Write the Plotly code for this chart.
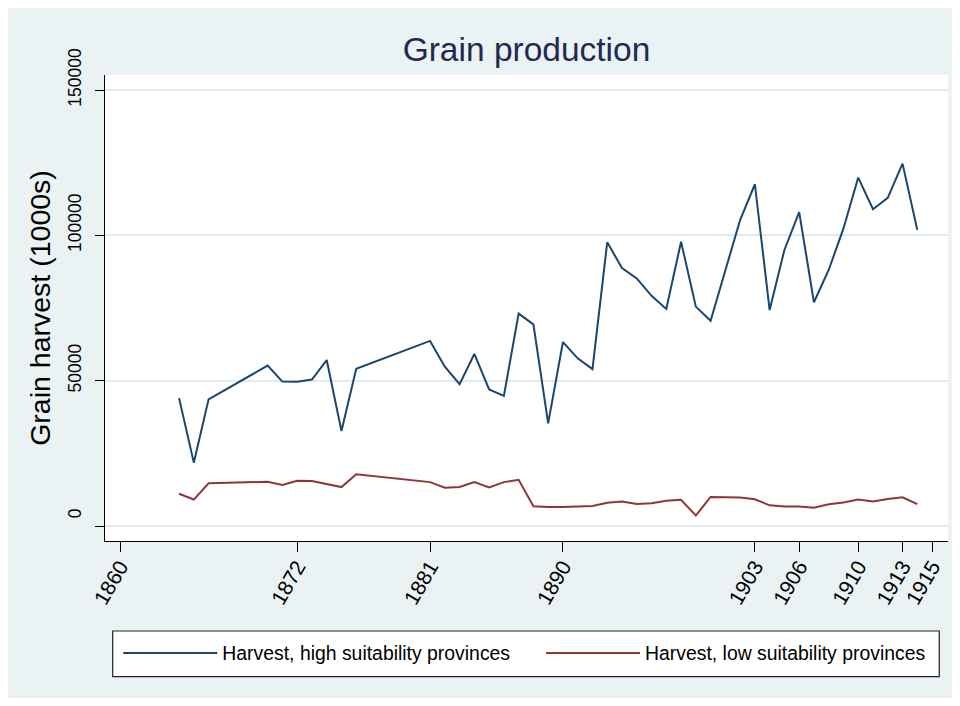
import plotly.graph_objects as go

years = [1864, 1865, 1866, 1870, 1871, 1872, 1873, 1874, 1875, 1876,
         1881, 1882, 1883, 1884, 1885, 1886, 1887, 1888, 1889, 1890,
         1891, 1892, 1893, 1894, 1895, 1896, 1897, 1898, 1899, 1900,
         1902, 1903, 1904, 1905, 1906, 1907, 1908, 1909, 1910, 1911,
         1912, 1913, 1914]

harvest_high = [44000, 21800, 43600, 55200, 49700, 49600, 50400, 57100, 32700, 54100,
                63700, 54800, 48800, 59200, 47000, 44800, 73100, 69400, 35300, 63300,
                57700, 54000, 97600, 88800, 85200, 79200, 74700, 97800, 75500, 70600,
                105300, 117600, 74300, 95000, 108000, 77000, 88100, 102400, 119900, 109000,
                112900, 124700, 101900]

harvest_low = [11100, 9100, 14700, 15200, 14100, 15600, 15500, 14400, 13400, 17800,
               15100, 13200, 13400, 15100, 13300, 15100, 15900, 6800, 6500, 6500,
               6700, 6900, 8000, 8400, 7600, 7800, 8700, 9000, 3600, 10000,
               9800, 9200, 7100, 6700, 6700, 6300, 7500, 8100, 9100, 8400,
               9300, 9900, 7500]

series_names = ["Harvest, high suitability provinces", "Harvest, low suitability provinces"]
x_ticks = [1860, 1872, 1881, 1890, 1903, 1906, 1910, 1913, 1915]
y_ticks = [0, 50000, 100000, 150000]

# figure sits inside the page's default 8px body margin
OFF = 8
W, H = 944, 690
ML, MR, MT, MB = 97, 4, 67, 157
PW, PH = W - ML - MR, H - MT - MB

def px_x(p):  # screen px -> paper x
    return (p - OFF - ML) / PW

def px_y(p):  # screen px -> paper y
    return (H - MB - (p - OFF)) / PH

FONT = "Liberation Sans, Arial, Helvetica, sans-serif"
BG = "#EAF2F3"

fig = go.Figure()
fig.add_trace(go.Scatter(x=years, y=harvest_high, mode="lines", name=series_names[0],
                         line=dict(color="#1A476F", width=2), legend="legend"))
fig.add_trace(go.Scatter(x=years, y=harvest_low, mode="lines", name=series_names[1],
                         line=dict(color="#90353B", width=2), legend="legend2"))

leg_common = dict(orientation="h", xref="container", yref="container",
                  xanchor="left", yanchor="middle", y=(H - (653.3 - OFF)) / H,
                  bgcolor="rgba(0,0,0,0)", borderwidth=0,
                  font=dict(size=19.4, family=FONT, color="black"),
                  itemwidth=94, itemsizing="trace")

fig.update_layout(
    template="none",
    width=W, height=H,
    margin=dict(l=ML, r=MR, t=MT, b=MB, pad=0, autoexpand=False),
    paper_bgcolor=BG,
    plot_bgcolor="white",
    font=dict(family=FONT, color="black"),
    title=dict(text="Grain production", x=0.5, xref="paper", xanchor="center",
               y=(H - (49 - OFF)) / H, yref="container", yanchor="middle",
               font=dict(size=33.5, color="#1E2A50", family=FONT)),
    xaxis=dict(range=[1858.984, 1916.08], tickmode="array", tickvals=x_ticks,
               ticktext=[str(v) for v in x_ticks], tickangle=-60, automargin=False,
               showgrid=False, zeroline=False, showline=True, linecolor="black",
               linewidth=1.2, ticks="outside", ticklen=10, tickwidth=1.2, tickcolor="black",
               ticklabelstandoff=-6,
               tickfont=dict(size=21, family=FONT, color="black")),
    yaxis=dict(range=[-5162, 155196], tickmode="array", tickvals=y_ticks,
               ticktext=[str(v) for v in y_ticks], tickangle=-90, automargin=False,
               showgrid=True, gridcolor="#E1EAED", gridwidth=1.5, zeroline=False,
               showline=True, linecolor="black", linewidth=1.2,
               ticks="outside", ticklen=9, tickwidth=1.2, tickcolor="black",
               ticklabelshift=-10, ticklabelstandoff=7,
               tickfont=dict(size=17.5, family=FONT, color="black"),
               title=dict(text="Grain harvest (1000s)", standoff=5,
                          font=dict(size=28.5, family=FONT, color="black"))),
    showlegend=True,
    legend=dict(leg_common, x=(123.3 - 5 - OFF) / W),
    legend2=dict(leg_common, x=(546 - 5 - OFF) / W),
    shapes=[
        dict(type="rect", xref="paper", yref="paper", layer="below",
             x0=px_x(112.7), x1=px_x(939.3), y0=px_y(676.7), y1=px_y(631),
             fillcolor="white", line=dict(width=1.2, color="#222222")),
    ],
)

fig.write_html("out.html")
